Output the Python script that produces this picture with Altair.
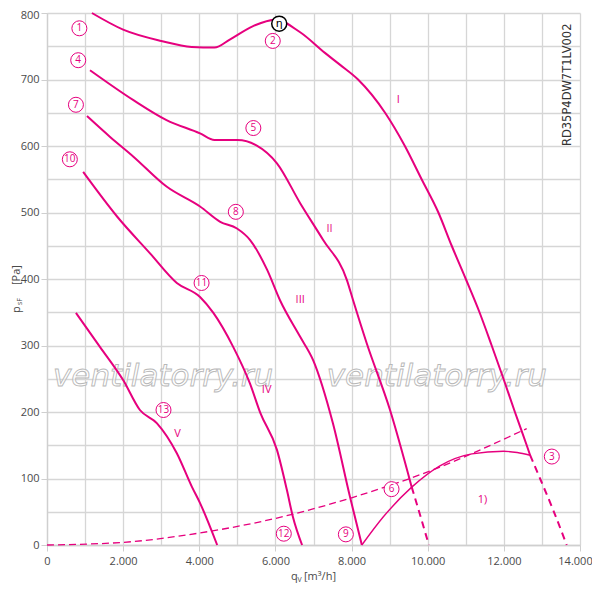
import altair as alt
import pandas as pd

MAG = "#e6007e"

# ---- curve data ----
curve_I_x = [1180, 2000, 3000, 3800, 4400, 4800, 5400, 6000, 6650, 7300, 7700, 8170, 8880, 9400, 9840, 10280, 10630, 11000, 11360, 11680, 11990, 12290, 12600, 12690]
curve_I_y = [800, 775, 758, 749, 748, 760, 780, 790, 771, 740, 722, 700, 650, 600, 550, 500, 450, 400, 350, 300, 250, 200, 150, 135]
curve_I_tail_x = [12690, 12950, 13300, 13650]
curve_I_tail_y = [135, 100, 52, 0]

curve_II_x = [1130, 2270, 3140, 4020, 4400, 5000, 5500, 6040, 6650, 7250, 7880, 8040, 8400, 9010, 9580]
curve_II_y = [714, 669, 639, 619, 609, 609, 601, 574, 514, 459, 398, 368, 303, 203, 87]
curve_II_tail_x = [9580, 9800, 10030]
curve_II_tail_y = [87, 45, 0]

curve_III_x = [1050, 1650, 2270, 3140, 4020, 4550, 4990, 5330, 5780, 6120, 6650, 6990, 7510, 7960, 8270]
curve_III_y = [645, 614, 584, 539, 509, 486, 476, 459, 414, 368, 313, 278, 183, 72, 0]

curve_IV_x = [950, 1840, 2700, 3410, 4020, 4370, 4890, 5330, 5600, 6040, 6300, 6460, 6700]
curve_IV_y = [561, 494, 439, 394, 373, 349, 298, 243, 199, 143, 83, 42, 0]

curve_V_x = [760, 1390, 2000, 2440, 2890, 3410, 3810, 4020, 4470]
curve_V_y = [349, 298, 248, 203, 183, 138, 87, 63, 0]

system_x = [0, 2000, 4000, 6000, 8000, 10000, 12600]
system_y = [0, 4, 18, 40, 71, 110, 175]

limit_x = [8270, 8830, 9580, 10320, 11160, 11990, 12350, 12690]
limit_y = [0, 42, 87, 119, 137, 141, 139, 135]

# ---- labels ----
circ_labels = ["1", "2", "3", "4", "5", "6", "7", "8", "9", "10", "11", "12", "13"]
circ_x = [850, 5930, 13260, 820, 5420, 9050, 760, 4960, 7850, 600, 4060, 6220, 3060]
circ_y = [777, 758, 133, 729, 627, 84, 662, 501, 16, 580, 394, 17, 203]

eta_label = ["η"]
eta_x = [6100]
eta_y = [784]

roman_labels = ["I", "II", "III", "IV", "V", "1)"]
roman_x = [9230, 7420, 6650, 5770, 3430, 11440]
roman_y = [669, 475, 368, 233, 167, 67]

model_text = ["RD35P4DW7T1LV002"]
model_x = [13690]
model_y = [692]

wm_text = ["ventilatorry.ru", "ventilatorry.ru"]
wm_x = [3050, 10240]
wm_y = [253, 253]

x_grid = list(range(0, 14001, 1000))
y_grid = list(range(0, 801, 50))

# ---- build tables ----
def rows(name, xs, ys):
    return [{"curve": name, "order": i, "x": a, "y": b} for i, (a, b) in enumerate(zip(xs, ys))]

solid = pd.DataFrame(
    rows("I", curve_I_x, curve_I_y) + rows("II", curve_II_x, curve_II_y)
    + rows("III", curve_III_x, curve_III_y) + rows("IV", curve_IV_x, curve_IV_y)
    + rows("V", curve_V_x, curve_V_y)
)
tails = pd.DataFrame(rows("It", curve_I_tail_x, curve_I_tail_y) + rows("IIt", curve_II_tail_x, curve_II_tail_y))
system = pd.DataFrame(rows("sys", system_x, system_y))
limit = pd.DataFrame(rows("lim", limit_x, limit_y))
circ = pd.DataFrame({"label": circ_labels, "x": circ_x, "y": circ_y})
eta = pd.DataFrame({"label": eta_label, "x": eta_x, "y": eta_y})
roman = pd.DataFrame({"label": roman_labels, "x": roman_x, "y": roman_y})
model = pd.DataFrame({"label": model_text, "x": model_x, "y": model_y})
wm = pd.DataFrame({"label": wm_text, "x": wm_x, "y": wm_y})

xscale = alt.Scale(domain=[0, 14000], nice=False, zero=False)
yscale = alt.Scale(domain=[0, 800], nice=False, zero=False)

xaxis = alt.Axis(
    values=x_grid, title=None, grid=True, gridColor="#d6d6d6", gridWidth=1.3,
    domainColor="#cfcfcf", domainWidth=1.3, tickColor="#cfcfcf", tickSize=6,
    tickOpacity={"condition": {"test": "datum.value % 2000 === 0", "value": 1}, "value": 0},
    labelOffset={"condition": {"test": "datum.value === 14000", "value": -5}, "value": 0},
    labelExpr="datum.value % 2000 === 0 ? replace(format(datum.value, ','), ',', '.') : ''",
    labelFont="Open Sans", labelFontSize=11, labelColor="#4a4a4a", labelPadding=4,
    labelFlush=False, labelOverlap=False,
)
yaxis = alt.Axis(
    values=y_grid, title=None, grid=True, gridColor="#d6d6d6", gridWidth=1.3,
    domainColor="#cfcfcf", domainWidth=1.3, tickColor="#cfcfcf", tickSize=6,
    tickOpacity={"condition": {"test": "datum.value % 100 === 0", "value": 1}, "value": 0},
    labelOffset={"condition": {"test": "datum.value === 800", "value": 2.5}, "value": 0},
    labelExpr="datum.value % 100 === 0 ? format(datum.value, 'd') : ''",
    labelFont="Open Sans", labelFontSize=11, labelColor="#4a4a4a", labelPadding=2,
    labelFlush=False, labelOverlap=False,
)

X = alt.X("x:Q", scale=xscale, axis=xaxis)
Y = alt.Y("y:Q", scale=yscale, axis=yaxis)

wm_layer = alt.Chart(wm).mark_text(
    font="DejaVu Sans", fontStyle="italic", fontSize=31, fill="white", fillOpacity=0.6,
    stroke="#b8b8b8", strokeWidth=0.9, align="center", baseline="middle",
).encode(x=X, y=Y, text="label:N")

solid_layer = alt.Chart(solid).mark_line(color=MAG, strokeWidth=2, interpolate="monotone").encode(
    x=X, y=Y, detail="curve:N", order="order:Q")
tail_layer = alt.Chart(tails).mark_line(color=MAG, strokeWidth=2, strokeDash=[7, 5], interpolate="monotone").encode(
    x=X, y=Y, detail="curve:N", order="order:Q")
sys_layer = alt.Chart(system).mark_line(color=MAG, strokeWidth=1.3, strokeDash=[7, 4], interpolate="monotone").encode(
    x=X, y=Y, order="order:Q")
lim_layer = alt.Chart(limit).mark_line(color=MAG, strokeWidth=1.4, interpolate="monotone").encode(
    x=X, y=Y, order="order:Q")

circ_pts = alt.Chart(circ).mark_point(shape="circle", filled=False, fill="white", fillOpacity=1,
                                       stroke=MAG, strokeWidth=1, size=225, opacity=1).encode(x=X, y=Y)
circ_txt = alt.Chart(circ).mark_text(font="Open Sans", fontSize=10, color=MAG, align="center",
                                     baseline="middle").encode(x=X, y=Y, text="label:N")
eta_pt = alt.Chart(eta).mark_point(shape="circle", filled=False, fill="white", fillOpacity=1,
                                   stroke="black", strokeWidth=1.5, size=225, opacity=1).encode(x=X, y=Y)
eta_txt = alt.Chart(eta).mark_text(font="DejaVu Sans", fontSize=11, color="black", align="center",
                                   baseline="middle").encode(x=X, y=Y, text="label:N")
roman_txt = alt.Chart(roman).mark_text(font="Open Sans", fontSize=11, color=MAG, align="center",
                                       baseline="middle").encode(x=X, y=Y, text="label:N")
model_txt = alt.Chart(model).mark_text(font="DejaVu Sans", fontSize=11.5, color="#333333", angle=270,
                                       align="center", baseline="middle").encode(x=X, y=Y, text="label:N")

# axis titles with subscripts
ttl = pd.DataFrame({"k": [0]})
xt1 = alt.Chart(ttl).mark_text(text="q", font="Open Sans", fontSize=11, color="#4a4a4a", align="left",
                               baseline="alphabetic").encode(x=alt.value(244), y=alt.value(567))
xt2 = alt.Chart(ttl).mark_text(text="V", font="Open Sans", fontSize=7, color="#4a4a4a", align="left",
                               baseline="alphabetic").encode(x=alt.value(250.5), y=alt.value(569))
xt3 = alt.Chart(ttl).mark_text(text="[m³/h]", font="Open Sans", fontSize=11, color="#4a4a4a", align="left",
                               baseline="alphabetic").encode(x=alt.value(257), y=alt.value(567))
yt1 = alt.Chart(ttl).mark_text(text="p", font="Open Sans", fontSize=11, color="#4a4a4a", align="left",
                               baseline="alphabetic", angle=270).encode(x=alt.value(-27), y=alt.value(300))
yt2 = alt.Chart(ttl).mark_text(text="sF", font="Open Sans", fontSize=7, color="#4a4a4a", align="left",
                               baseline="alphabetic", angle=270).encode(x=alt.value(-25), y=alt.value(292))
yt3 = alt.Chart(ttl).mark_text(text="[Pa]", font="Open Sans", fontSize=11, color="#4a4a4a", align="left",
                               baseline="alphabetic", angle=270).encode(x=alt.value(-27), y=alt.value(272))

chart = alt.layer(
    wm_layer, sys_layer, lim_layer, solid_layer, tail_layer,
    circ_pts, circ_txt, eta_pt, eta_txt, roman_txt, model_txt,
    xt1, xt2, xt3, yt1, yt2, yt3,
).properties(
    width=533, height=532,
    autosize=alt.AutoSizeParams(type="none"),
    padding={"left": 39, "top": 5, "right": 12, "bottom": 38},
    background="white",
).configure_view(strokeWidth=0)

chart.save("out.html", embed_options={"renderer": "svg", "actions": False})
